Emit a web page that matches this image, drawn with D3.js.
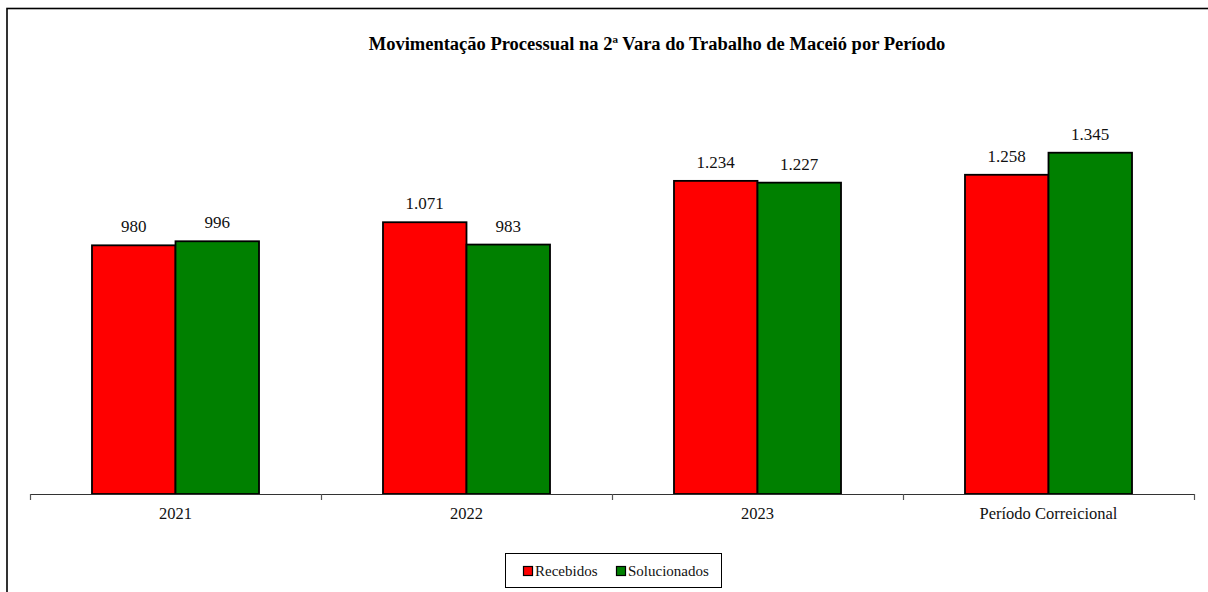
<!DOCTYPE html>
<html><head><meta charset="utf-8">
<script src="https://cdn.jsdelivr.net/npm/d3@7"></script>
<style>body{margin:0;background:#fff}svg{display:block}</style>
</head><body>
<svg id="c" width="1208" height="592"></svg>
<script>
const categories = ["2021", "2022", "2023", "Período Correicional"];
const seriesNames = ["Recebidos", "Solucionados"];
const recebidos = [980, 1071, 1234, 1258];
const solucionados = [996, 983, 1227, 1345];
const colors = ["#FF0000", "#008000"];
const title = "Movimentação Processual na 2ª Vara do Trabalho de Maceió por Período";

const FF = '"Liberation Serif"';
const svg = d3.select("#c");

// frame
svg.append("rect").attr("x", 7).attr("y", 8.5).attr("width", 1220).attr("height", 600)
  .attr("fill", "none").attr("stroke", "#000").attr("stroke-width", 1.6);

svg.append("text").attr("x", 657).attr("y", 50).attr("text-anchor", "middle")
  .style("font-family", FF).style("font-weight", "bold").style("font-size", "18.5px")
  .text(title);

const x0 = d3.scaleBand().domain(categories).range([30, 1194]).paddingInner(0.426).paddingOuter(0.213);
const x1 = d3.scaleBand().domain(seriesNames).range([0, x0.bandwidth()]);
const y = d3.scaleLinear().domain([0, 1600]).range([494, 88]);

const data = categories.map((c, i) => ({cat: c, vals: [recebidos[i], solucionados[i]]}));

const g = svg.append("g");
const groups = g.selectAll("g.grp").data(data).enter().append("g")
  .attr("transform", d => `translate(${x0(d.cat)},0)`);
groups.selectAll("rect").data(d => d.vals.map((v, j) => ({name: seriesNames[j], v, j})))
  .enter().append("rect")
  .attr("x", d => x1(d.name)).attr("width", x1.bandwidth())
  .attr("y", d => y(d.v)).attr("height", d => y(0) - y(d.v))
  .attr("fill", d => colors[d.j]).attr("stroke", "#000").attr("stroke-width", 1.8);
groups.selectAll("text").data(d => d.vals.map((v, j) => ({name: seriesNames[j], v, j})))
  .enter().append("text")
  .attr("x", d => x1(d.name) + x1.bandwidth() / 2).attr("y", d => y(d.v) - 13)
  .attr("text-anchor", "middle").style("font-family", FF).style("font-size", "17px")
  .attr("fill", "#111")
  .text(d => d3.format(",")(d.v).replace(/,/g, "."));

// axis
const step = x0.step();
const bounds = [0, 1, 2, 3, 4].map(i => 30 + i * step);
svg.append("line").attr("x1", 30).attr("x2", 1194).attr("y1", 494.5).attr("y2", 494.5)
  .attr("stroke", "#333").attr("stroke-width", 1.2);
svg.selectAll("line.tick").data(bounds).enter().append("line")
  .attr("x1", d => Math.round(d) + 0.5).attr("x2", d => Math.round(d) + 0.5)
  .attr("y1", 494).attr("y2", 500).attr("stroke", "#555").attr("stroke-width", 1.2);
svg.selectAll("text.cat").data(categories).enter().append("text")
  .attr("x", d => x0(d) + x0.bandwidth() / 2).attr("y", 519)
  .attr("text-anchor", "middle").style("font-family", FF).style("font-size", "16.5px").attr("fill", "#111")
  .text(d => d);

// legend
const lg = svg.append("g");
lg.append("rect").attr("x", 505.5).attr("y", 553.5).attr("width", 216).attr("height", 34)
  .attr("fill", "#fff").attr("stroke", "#000").attr("stroke-width", 1);
const lx = [523, 616];
seriesNames.forEach((n, i) => {
  lg.append("rect").attr("x", lx[i] + 0.5).attr("y", 566.5).attr("width", 9).attr("height", 9)
    .attr("fill", colors[i]).attr("stroke", "#000").attr("stroke-width", 1.2);
  lg.append("text").attr("x", lx[i] + 12).attr("y", 576)
    .style("font-family", FF).style("font-size", "15px").attr("fill", "#111").text(n);
});
</script>
</body></html>
